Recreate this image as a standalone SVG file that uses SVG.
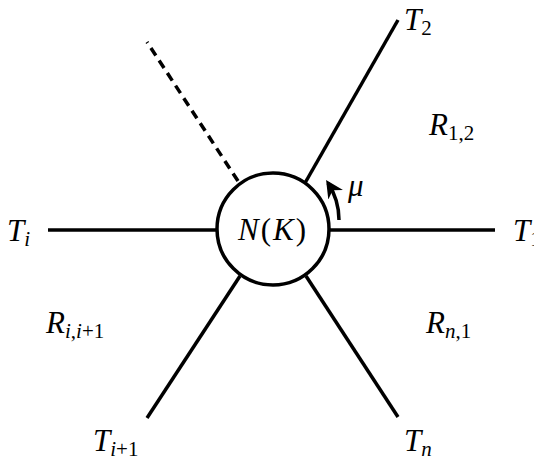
<svg xmlns="http://www.w3.org/2000/svg" width="534" height="462" viewBox="0 0 534 462">
<style>
.ln{stroke:#000;stroke-width:3.5;fill:none}
.t{font-family:"Liberation Serif",serif;font-style:italic;font-size:31px;fill:#000}
.s{font-size:21px;font-style:italic}
.n{font-style:normal}
</style>
<defs>
<marker id="ah" viewBox="0 0 10 10" refX="8" refY="5" markerWidth="5" markerHeight="5" orient="auto" markerUnits="strokeWidth">
<path d="M0,0 L10,5 L0,10 L3,5 z" fill="#000"/>
</marker>
</defs>
<g id="connectors">
<line class="ln" x1="330" y1="230" x2="495" y2="230"/>
<line class="ln" x1="48" y1="230" x2="216" y2="230"/>
<line class="ln" x1="305" y1="183" x2="398" y2="20"/>
<line class="ln" x1="240" y1="276" x2="147" y2="418"/>
<line class="ln" x1="306" y1="276" x2="398" y2="417"/>
<line class="ln" x1="238" y1="181" x2="147" y2="42" stroke-dasharray="9,6"/>
<path class="ln" d="M339,220 A68,68 0 0 0 328,183" stroke-width="2.5" marker-end="url(#ah)"/>
</g>
<g id="node-NK">
<circle class="ln" cx="273" cy="229" r="56"/>
<text class="t" x="273" y="240" text-anchor="middle" letter-spacing="2">N<tspan class="n">(</tspan>K<tspan class="n">)</tspan></text>
</g>
<g id="labels">
<text class="t" x="404" y="30">T<tspan class="s n" dy="5">2</tspan></text>
<text class="t" x="513" y="241">T<tspan class="s n" dy="5">1</tspan></text>
<text class="t" x="7" y="241">T<tspan class="s" dy="5">i</tspan></text>
<text class="t" x="429" y="135">R<tspan class="s n" dy="5">1,2</tspan></text>
<text class="t" x="46" y="333">R<tspan class="s" dy="5">i</tspan><tspan class="s n">,</tspan><tspan class="s">i</tspan><tspan class="s n">+1</tspan></text>
<text class="t" x="426" y="333">R<tspan class="s" dy="5">n</tspan><tspan class="s n">,1</tspan></text>
<text class="t" x="93" y="451">T<tspan class="s" dy="5">i</tspan><tspan class="s n">+1</tspan></text>
<text class="t" x="404" y="451">T<tspan class="s" dy="5">n</tspan></text>
<text class="t" x="348" y="196" font-size="26">μ</text>
</g>
</svg>
